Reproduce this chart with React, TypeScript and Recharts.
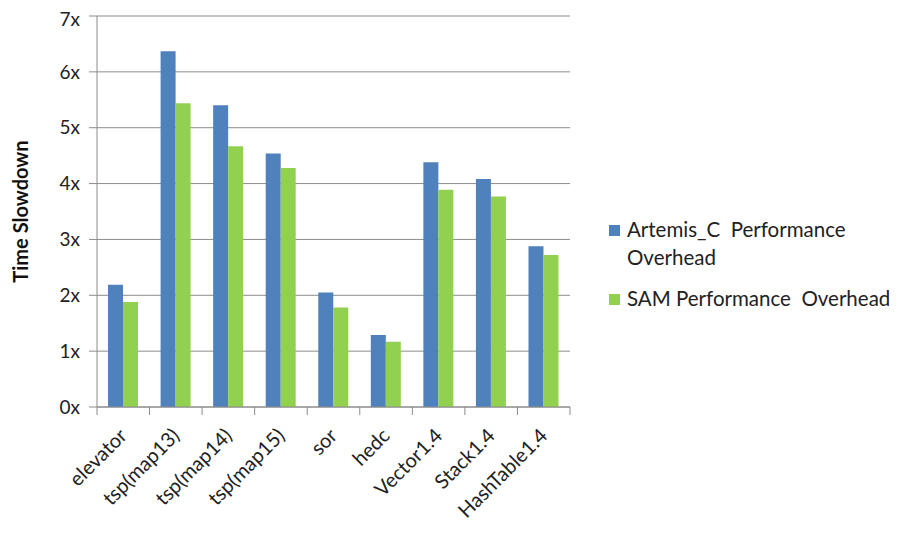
import React from 'react';
import { BarChart, Bar, XAxis, YAxis, CartesianGrid } from 'recharts';

const benchmarks = ['elevator', 'tsp(map13)', 'tsp(map14)', 'tsp(map15)', 'sor', 'hedc', 'Vector1.4', 'Stack1.4', 'HashTable1.4'];
const artemisOverhead = [2.19, 6.37, 5.4, 4.54, 2.05, 1.29, 4.38, 4.08, 2.88];
const samOverhead = [1.88, 5.44, 4.67, 4.28, 1.78, 1.17, 3.89, 3.77, 2.72];
const yTicks = [0, 1, 2, 3, 4, 5, 6, 7];

const BLUE = '#4F81BD';
const GREEN = '#92D050';
const AXIS = '#8c8c8c';
const FONT = 'Lato, "Liberation Sans", sans-serif';

const data = benchmarks.map((name, i) => ({
  name,
  artemis: artemisOverhead[i],
  sam: samOverhead[i],
}));

const CategoryTick = (props: any) => {
  const { x, y, payload, index, visibleTicksCount } = props;
  const half = payload.offset ?? 0;
  const last = index === (visibleTicksCount ?? benchmarks.length) - 1;
  return (
    <g>
      <line x1={x - half} x2={x - half} y1={y - 8} y2={y} stroke={AXIS} />
      {last && <line x1={x + half} x2={x + half} y1={y - 8} y2={y} stroke={AXIS} />}
      <text
        x={x + 5}
        y={y + 22}
        textAnchor="end"
        transform={`rotate(-45, ${x + 5}, ${y + 22})`}
        fontSize={20}
        fontFamily={FONT}
        fill="#222"
      >
        {payload.value}
      </text>
    </g>
  );
};

function LegendBox() {
  const items = [
    { color: BLUE, lines: ['Artemis_C  Performance', 'Overhead'] },
    { color: GREEN, lines: ['SAM Performance  Overhead'] },
  ];
  return (
    <div style={{ position: 'absolute', left: 601, top: 207, fontFamily: FONT, fontSize: 20.5, color: '#222', lineHeight: '28px' }}>
      {items.map((it) => (
        <div key={it.lines[0]} style={{ display: 'flex', alignItems: 'flex-start', marginBottom: 13 }}>
          <span style={{ width: 11, height: 11, background: it.color, marginTop: 10, marginRight: 7, flex: 'none' }} />
          <div style={{ whiteSpace: 'pre' }}>
            {it.lines.map((l) => (
              <div key={l}>{l}</div>
            ))}
          </div>
        </div>
      ))}
    </div>
  );
}

export default function App() {
  return (
    <div style={{ position: 'relative', width: 889, height: 528, background: '#fff' }}>
      <BarChart
        width={889}
        height={528}
        data={data}
        margin={{ top: 8, right: 327, bottom: 0, left: 39 }}
        barCategoryGap="21%"
        barGap={0}
      >
        <CartesianGrid vertical={false} stroke={AXIS} strokeDasharray="" />
        <XAxis
          dataKey="name"
          interval={0}
          height={129}
          stroke={AXIS}
          tickLine={false}
          tick={<CategoryTick />}
        />
        <YAxis
          width={50}
          domain={[0, 7]}
          ticks={yTicks}
          tickFormatter={(v) => `${v}x`}
          stroke={AXIS}
          tickSize={8}
          tickMargin={9}
          tick={{ fill: '#222', fontSize: 19, fontFamily: FONT }}
          label={{
            value: 'Time Slowdown',
            angle: -90,
            position: 'insideLeft',
            offset: -26,
            style: { fontFamily: FONT, fontSize: 20, fontWeight: 700, fill: '#111', textAnchor: 'middle' },
          }}
        />
        <Bar dataKey="artemis" name="Artemis_C Performance Overhead" fill={BLUE} isAnimationActive={false} />
        <Bar dataKey="sam" name="SAM Performance  Overhead" fill={GREEN} isAnimationActive={false} />
      </BarChart>
      <LegendBox />
    </div>
  );
}
